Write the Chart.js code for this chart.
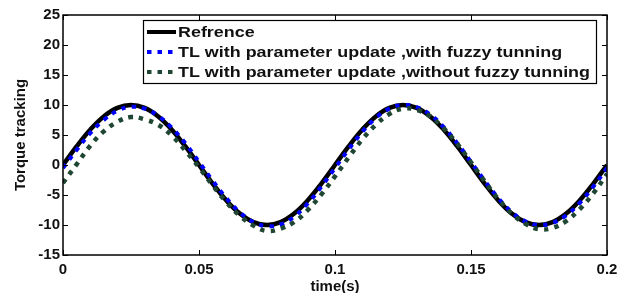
<!DOCTYPE html>
<html>
<head>
<meta charset="utf-8">
<script src="https://cdn.jsdelivr.net/npm/chart.js@4"></script>
<style>
  html, body { margin: 0; padding: 0; background: #fff; }
  #wrap { width: 631px; height: 293px; }
</style>
</head>
<body>
<div id="wrap"><canvas id="torqueChart" width="631" height="293"></canvas></div>
<script>
// time axis, sampled every 0.005 s
const times = [
  0, 0.005, 0.01, 0.015, 0.02, 0.025, 0.03, 0.035, 0.04, 0.045,
  0.05, 0.055, 0.06, 0.065, 0.07, 0.075, 0.08, 0.085, 0.09, 0.095,
  0.1, 0.105, 0.11, 0.115, 0.12, 0.125, 0.13, 0.135, 0.14, 0.145,
  0.15, 0.155, 0.16, 0.165, 0.17, 0.175, 0.18, 0.185, 0.19, 0.195, 0.2
];

const reference = [
  0, 3.09, 5.88, 8.09, 9.51, 10, 9.51, 8.09, 5.88, 3.09,
  0, -3.09, -5.88, -8.09, -9.51, -10, -9.51, -8.09, -5.88, -3.09,
  0, 3.09, 5.88, 8.09, 9.51, 10, 9.51, 8.09, 5.88, 3.09,
  0, -3.09, -5.88, -8.09, -9.51, -10, -9.51, -8.09, -5.88, -3.09, 0
];

const withFuzzy = [
  -0.5, 2.5, 5.3, 7.5, 9.05, 9.7, 9.4, 8.2, 6.2, 3.6,
  0.5, -2.6, -5.5, -7.9, -9.5, -10.2, -9.9, -8.6, -6.4, -3.6,
  -0.5, 2.6, 5.5, 7.85, 9.4, 10, 9.65, 8.4, 6.3, 3.6,
  0.5, -2.6, -5.5, -7.85, -9.4, -10, -9.65, -8.4, -6.3, -3.6, -0.5
];

const withoutFuzzy = [
  -3.0, 0.1, 3.2, 5.6, 7.2, 8.0, 7.6, 6.7, 4.9, 2.4,
  -0.4, -3.4, -6.15, -8.45, -10.1, -11.0, -10.6, -9.5, -7.5, -4.9,
  -1.9, 1.25, 4.25, 6.7, 8.5, 9.4, 9.2, 8.1, 6.1, 3.5,
  0.46, -2.7, -5.65, -8.1, -9.8, -10.7, -10.5, -9.35, -7.35, -4.7, -1.5
];

const seriesNames = [
  "Refrence",
  "TL with parameter update ,with fuzzy tunning",
  "TL with parameter update ,without fuzzy tunning"
];

const xTicks = [0, 0.05, 0.1, 0.15, 0.2];
const xTickLabels = ["0", "0.05", "0.1", "0.15", "0.2"];
const yTicks = [-15, -10, -5, 0, 5, 10, 15, 20, 25];

const FONT = "'Liberation Sans', Arial, sans-serif";

function points(values) {
  return values.map((v, i) => ({ x: times[i], y: v }));
}

// box, inward ticks on all four sides, and the legend
const framePlugin = {
  id: "frame",
  afterDatasetsDraw(chart) {
    const ctx = chart.ctx;
    const a = chart.chartArea;
    const xs = chart.scales.x;
    const ys = chart.scales.y;
    const t = 5;
    ctx.save();
    ctx.strokeStyle = "#000";
    ctx.lineWidth = 1;
    ctx.beginPath();
    xTicks.forEach((v) => {
      const px = Math.round(xs.getPixelForValue(v)) + 0.5;
      ctx.moveTo(px, a.bottom);
      ctx.lineTo(px, a.bottom - t);
      ctx.moveTo(px, a.top);
      ctx.lineTo(px, a.top + t);
    });
    yTicks.forEach((v) => {
      const py = Math.round(ys.getPixelForValue(v)) + 0.5;
      ctx.moveTo(a.left, py);
      ctx.lineTo(a.left + t, py);
      ctx.moveTo(a.right, py);
      ctx.lineTo(a.right - t, py);
    });
    ctx.stroke();
    ctx.lineWidth = 1.5;
    ctx.strokeRect(a.left, a.top, a.right - a.left, a.bottom - a.top);

    // legend
    const lx = 143.5, ly = 20.5, lw = 453, lh = 63;
    ctx.fillStyle = "#fff";
    ctx.fillRect(lx, ly, lw, lh);
    ctx.lineWidth = 1.2;
    ctx.strokeRect(lx, ly, lw, lh);
    ctx.font = "bold 15px " + FONT;
    ctx.textBaseline = "middle";
    // the original legend text is drawn wider than the font; stretch it
    const longest = ctx.measureText(seriesNames[2]).width;
    const sx = 412 / longest;
    chart.data.datasets.forEach((ds, i) => {
      const y = 32 + i * 20;
      ctx.beginPath();
      ctx.strokeStyle = ds.borderColor;
      ctx.lineWidth = 4;
      ctx.setLineDash(ds.borderDash || []);
      ctx.moveTo(147, y);
      ctx.lineTo(176, y);
      ctx.stroke();
      ctx.setLineDash([]);
      ctx.save();
      ctx.translate(178, y + 1);
      ctx.scale(sx, 1);
      ctx.fillStyle = "#111";
      ctx.fillText(ds.label, 0, 0);
      ctx.restore();
    });
    ctx.restore();
  }
};

new Chart(document.getElementById("torqueChart"), {
  type: "line",
  data: {
    datasets: [
      {
        label: seriesNames[0],
        data: points(reference),
        borderColor: "#000000",
        borderWidth: 4.5,
        pointRadius: 0,
        tension: 0.4,
        order: 3
      },
      {
        label: seriesNames[1],
        data: points(withFuzzy),
        borderColor: "#0000ff",
        borderWidth: 4,
        borderDash: [4.5, 6],
        pointRadius: 0,
        tension: 0.4,
        order: 2
      },
      {
        label: seriesNames[2],
        data: points(withoutFuzzy),
        borderColor: "#1e4632",
        borderWidth: 4.5,
        borderDash: [4.5, 6],
        pointRadius: 0,
        tension: 0.4,
        order: 1
      }
    ]
  },
  options: {
    responsive: false,
    animation: false,
    devicePixelRatio: 1,
    layout: { padding: { left: 0, right: 24, top: 15, bottom: 0 } },
    plugins: {
      legend: { display: false },
      tooltip: { enabled: false }
    },
    scales: {
      x: {
        type: "linear",
        min: 0,
        max: 0.2,
        afterBuildTicks: (scale) => {
          scale.ticks = xTicks.map((v) => ({ value: v }));
        },
        afterFit: (scale) => { scale.height = 38; },
        grid: { display: false, drawTicks: false },
        border: { display: false },
        ticks: {
          padding: 6,
          color: "#111",
          font: { family: FONT, size: 15, weight: "bold" },
          maxRotation: 0,
          callback: (v) => xTickLabels[xTicks.indexOf(v)]
        },
        title: {
          display: true,
          text: "time(s)",
          color: "#111",
          font: { family: FONT, size: 15, weight: "bold", lineHeight: 0.85 },
          padding: { top: 0, bottom: 0 }
        }
      },
      y: {
        min: -15,
        max: 25,
        afterBuildTicks: (scale) => {
          scale.ticks = yTicks.map((v) => ({ value: v }));
        },
        afterFit: (scale) => { scale.width = 63; },
        grid: { display: false, drawTicks: false },
        border: { display: false },
        ticks: {
          padding: 3,
          color: "#111",
          font: { family: FONT, size: 15, weight: "bold" }
        },
        title: {
          display: true,
          text: "Torque tracking",
          color: "#111",
          font: { family: FONT, size: 15, weight: "bold" },
          padding: { top: 12, bottom: 0 }
        }
      }
    }
  },
  plugins: [framePlugin]
});
</script>
</body>
</html>
